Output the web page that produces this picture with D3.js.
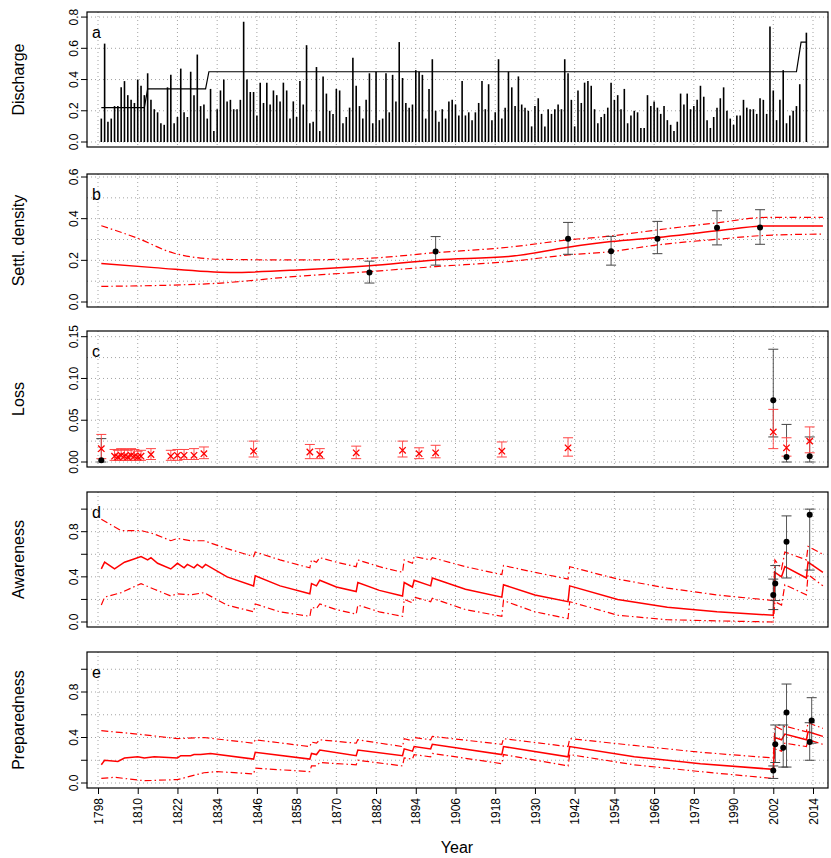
<!DOCTYPE html>
<html><head><meta charset="utf-8">
<script src="https://cdn.jsdelivr.net/npm/d3@7"></script>
<style>body{margin:0;background:#fff}svg{font-family:"Liberation Sans",Arial,sans-serif}</style>
</head><body><svg id="c" width="831" height="858"></svg>
<script>
// ---------- DATA ----------
const xTicks = d3.range(1798, 2015, 12);
const dischargeStart = 1799;
const discharge = [0.15,0.63,0.13,0.15,0.23,0.23,0.35,0.39,0.30,0.27,0.25,0.40,0.36,0.30,0.44,0.27,0.21,0.19,0.12,0.11,0.35,0.43,0.12,0.16,0.47,0.19,0.16,0.45,0.30,0.56,0.23,0.24,0.15,0.34,0.07,0.21,0.33,0.40,0.26,0.27,0.21,0.21,0.27,0.77,0.40,0.32,0.32,0.17,0.38,0.25,
0.38,0.24,0.33,0.30,0.26,0.38,0.33,0.15,0.26,0.16,0.39,0.24,0.62,0.12,0.13,0.48,0.07,0.42,0.31,0.20,0.18,0.34,0.33,0.12,0.16,0.22,0.54,0.36,0.23,0.15,0.27,0.44,0.12,0.45,0.14,0.15,0.44,0.19,0.43,0.26,0.64,0.41,0.25,0.22,0.24,0.46,0.45,0.43,0.15,0.34,0.53,0.20,0.13,0.21,0.15,0.26,
0.27,0.24,0.17,0.39,0.17,0.19,0.14,0.19,0.25,0.39,0.21,0.37,0.14,0.19,0.53,0.15,0.22,0.45,0.35,0.23,0.42,0.24,0.22,0.20,0.10,0.23,0.28,0.18,0.10,0.21,0.18,0.21,0.24,0.21,0.53,0.44,0.27,0.10,0.33,0.25,0.38,0.39,0.36,0.21,0.12,0.16,0.18,0.22,0.38,0.27,0.30,0.21,0.34,0.12,0.17,0.20,
0.19,0.09,0.09,0.30,0.23,0.26,0.22,0.18,0.23,0.14,0.11,0.07,0.13,0.31,0.24,0.31,0.21,0.23,0.27,0.36,0.29,0.14,0.09,0.16,0.22,0.28,0.35,0.20,0.15,0.11,0.17,0.17,0.27,0.22,0.21,0.21,0.18,0.28,0.27,0.18,0.74,0.33,0.14,0.27,0.46,0.12,0.17,0.20,0.23,0.37,0.00,0.70];
const dischargeStep = [[1799,0.22],[1812,0.22],[1813,0.34],[1830.5,0.34],[1831.5,0.45],[2009,0.45],[2010.4,0.64],[2012,0.64]];

const densMid = [[1799,0.185],[1815,0.165],[1838,0.142],[1860,0.155],[1880,0.174],[1900,0.202],[1922,0.218],[1940,0.263],[1953,0.29],[1967,0.31],[1985,0.342],[2000,0.365],[2017,0.365]];
const densUp = [[1799,0.366],[1810,0.306],[1821,0.234],[1835,0.205],[1858,0.202],[1880,0.21],[1900,0.237],[1922,0.263],[1940,0.298],[1953,0.317],[1967,0.346],[1985,0.38],[2000,0.406],[2017,0.406]];
const densLo = [[1799,0.075],[1832,0.088],[1858,0.123],[1880,0.146],[1900,0.17],[1922,0.194],[1940,0.226],[1953,0.242],[1967,0.274],[1985,0.301],[2000,0.32],[2017,0.326]];
const densObs = [[1880,0.142,0.091,0.196],[1900,0.242,0.177,0.314],[1940,0.304,0.229,0.382],[1953,0.244,0.177,0.315],[1967,0.304,0.232,0.387],[1985,0.357,0.274,0.438],[1998,0.358,0.277,0.443]];

const lossMod = [[1799,0.016,0.004,0.033],[1803,0.007,0.002,0.015],[1804,0.006,0.002,0.014],[1805,0.008,0.002,0.016],[1806,0.007,0.002,0.015],[1807,0.006,0.002,0.014],[1808,0.008,0.002,0.016],[1809,0.007,0.002,0.015],[1810,0.006,0.002,0.013],[1811,0.007,0.002,0.014],[1814,0.009,0.003,0.016],[1820,0.007,0.002,0.014],[1822,0.008,0.002,0.015],[1824,0.008,0.003,0.015],[1827,0.008,0.003,0.016],[1830,0.010,0.004,0.018],[1845,0.013,0.006,0.025],[1862,0.012,0.004,0.021],[1865,0.009,0.004,0.016],[1876,0.011,0.004,0.019],[1890,0.014,0.006,0.025],[1895,0.010,0.004,0.017],[1900,0.011,0.005,0.020],[1920,0.013,0.006,0.024],[1940,0.017,0.007,0.029],[2002,0.036,0.016,0.063],[2006,0.017,0.007,0.029],[2013,0.025,0.011,0.042]];
const lossObs = [[1799,0.002,0.0,0.028],[2002,0.074,0.030,0.135],[2006,0.006,0.0,0.045],[2013,0.007,0.0,0.030]];

const awMid = [[1799,0.47],[1800,0.53],[1803,0.47],[1806,0.53],[1808,0.55],[1811,0.58],[1813,0.55],[1814,0.57],[1816,0.52],[1820,0.47],[1822,0.52],[1824,0.48],[1825,0.51],[1827,0.48],[1828,0.51],[1829.5,0.48],[1830.5,0.51],[1837,0.40],[1845,0.32],[1845.5,0.41],[1853,0.32],[1862,0.25],[1862.5,0.34],[1864,0.32],[1865,0.37],[1870,0.31],[1876,0.27],[1876.5,0.35],[1883,0.28],[1890,0.23],[1890.5,0.35],[1893,0.31],[1893.5,0.37],[1898.5,0.32],[1899,0.39],[1909,0.29],[1920,0.22],[1920.5,0.33],[1930,0.24],[1940,0.18],[1940.5,0.32],[1955,0.20],[1970,0.13],[1985,0.09],[2002,0.06],[2002.5,0.44],[2004.5,0.40],[2005.5,0.49],[2012,0.39],[2012.5,0.53],[2017,0.44]];
const awUp = [[1799,0.91],[1805,0.81],[1811,0.81],[1815,0.78],[1820,0.72],[1822,0.74],[1826,0.72],[1830,0.72],[1837,0.65],[1845,0.58],[1845.5,0.62],[1853,0.55],[1862,0.48],[1862.5,0.55],[1864,0.53],[1865,0.57],[1870,0.53],[1876,0.49],[1876.5,0.55],[1883,0.49],[1890,0.44],[1890.5,0.55],[1893,0.52],[1893.5,0.58],[1898.5,0.55],[1899,0.57],[1909,0.49],[1920,0.42],[1920.5,0.50],[1930,0.44],[1940,0.38],[1940.5,0.49],[1955,0.38],[1970,0.30],[1985,0.24],[2002,0.19],[2002.5,0.55],[2004.5,0.47],[2005.5,0.62],[2012,0.55],[2012.5,0.67],[2017,0.60]];
const awLo = [[1799,0.15],[1800,0.22],[1805,0.26],[1811,0.34],[1815,0.29],[1820,0.23],[1822,0.25],[1826,0.24],[1830,0.26],[1837,0.15],[1845,0.09],[1845.5,0.16],[1853,0.09],[1862,0.05],[1862.5,0.13],[1864,0.12],[1865,0.16],[1870,0.11],[1876,0.07],[1876.5,0.15],[1883,0.09],[1890,0.05],[1890.5,0.20],[1893,0.17],[1893.5,0.22],[1898.5,0.18],[1899,0.21],[1909,0.11],[1920,0.05],[1920.5,0.19],[1930,0.09],[1940,0.03],[1940.5,0.18],[1955,0.06],[1970,0.02],[1985,0.01],[2002,0.00],[2002.5,0.18],[2004.5,0.15],[2005.5,0.33],[2012,0.24],[2012.5,0.42],[2017,0.32]];
const awObs = [[2002,0.24,0.11,0.38],[2002.6,0.34,0.19,0.50],[2006,0.71,0.39,0.94],[2013,0.95,0.46,1.0]];

const prMid = [[1799,0.16],[1800,0.20],[1804,0.19],[1806,0.22],[1810,0.23],[1812,0.22],[1815,0.23],[1822,0.22],[1823,0.24],[1826,0.24],[1827,0.25],[1829,0.25],[1832,0.26],[1845,0.21],[1845.5,0.27],[1862,0.21],[1862.5,0.26],[1864,0.25],[1865,0.29],[1876,0.24],[1876.5,0.29],[1890,0.24],[1890.5,0.30],[1893,0.28],[1893.5,0.32],[1898.5,0.30],[1899,0.34],[1920,0.25],[1920.5,0.32],[1940,0.23],[1940.5,0.32],[1960,0.23],[1980,0.17],[2002,0.12],[2002.5,0.40],[2004.5,0.38],[2005.5,0.43],[2012,0.38],[2012.5,0.45],[2017,0.41]];
const prUp = [[1799,0.46],[1810,0.43],[1822,0.39],[1830,0.40],[1845,0.35],[1845.5,0.38],[1862,0.32],[1862.5,0.36],[1864,0.35],[1865,0.38],[1876,0.35],[1876.5,0.38],[1890,0.32],[1890.5,0.39],[1893,0.37],[1893.5,0.40],[1898.5,0.38],[1899,0.41],[1920,0.34],[1920.5,0.39],[1940,0.32],[1940.5,0.39],[1960,0.33],[1980,0.27],[2002,0.22],[2002.5,0.50],[2004.5,0.47],[2005.5,0.50],[2012,0.45],[2012.5,0.53],[2017,0.48]];
const prLo = [[1799,0.04],[1803,0.05],[1812,0.02],[1822,0.03],[1830,0.09],[1834,0.10],[1845,0.08],[1845.5,0.13],[1862,0.10],[1862.5,0.15],[1864,0.15],[1865,0.18],[1876,0.16],[1876.5,0.20],[1890,0.15],[1890.5,0.22],[1893,0.21],[1893.5,0.25],[1898.5,0.23],[1899,0.26],[1920,0.17],[1920.5,0.25],[1940,0.15],[1940.5,0.25],[1960,0.16],[1980,0.10],[2002,0.04],[2002.5,0.30],[2004.5,0.28],[2005.5,0.35],[2012,0.32],[2012.5,0.38],[2017,0.34]];
const prObs = [[2002,0.11,0.04,0.15],[2002.6,0.34,0.18,0.51],[2005,0.31,0.14,0.51],[2006,0.62,0.14,0.87],[2013,0.36,0.20,0.53],[2013.6,0.55,0.35,0.75]];

// ---------- LAYOUT ----------
const svg = d3.select("#c");
const L = 87, R = 828;
const x = d3.scaleLinear().domain([1798, 2014]).range([98, 813]);
const dash = "7,3,1.5,3";
const red = "#ff0000";

function panel(o) {
  const y = d3.scaleLinear().domain([0, o.refV]).range([o.y0, o.refY]);
  const g = svg.append("g");
  // grid
  const gg = g.append("g").attr("stroke", "#999").attr("stroke-dasharray", "1,3").attr("stroke-width", 0.9);
  xTicks.forEach(t => gg.append("line").attr("x1", x(t)).attr("x2", x(t)).attr("y1", o.top).attr("y2", o.bot));
  o.grid.forEach(v => gg.append("line").attr("x1", L).attr("x2", R).attr("y1", y(v)).attr("y2", y(v)));
  // frame
  g.append("rect").attr("x", L).attr("y", o.top).attr("width", R - L).attr("height", o.bot - o.top)
    .attr("fill", "none").attr("stroke", "#000").attr("stroke-width", 1.2);
  // y axis ticks
  o.ticks.forEach(v => {
    g.append("line").attr("x1", L - 6).attr("x2", L).attr("y1", y(v)).attr("y2", y(v)).attr("stroke", "#000");
  });
  o.labels.forEach(v => {
    g.append("text").attr("transform", `translate(${L - 9},${y(v)}) rotate(-90)`)
      .attr("text-anchor", "middle").attr("font-size", 12).text(d3.format(o.fmt)(v));
  });
  g.append("text").attr("transform", `translate(24,${(o.top + o.bot) / 2}) rotate(-90)`)
    .attr("text-anchor", "middle").attr("font-size", 16).text(o.title);
  g.append("text").attr("x", 92).attr("y", o.top + 26).attr("font-size", 16).text(o.letter);
  return {g, y};
}

const lineGen = (y, curve) => d3.line().x(d => x(d[0])).y(d => y(d[1])).curve(curve || d3.curveLinear);

function drawLines(p, mid, up, lo, curve) {
  const lg = lineGen(p.y, curve);
  [up, lo].forEach(s => p.g.append("path").attr("d", lg(s)).attr("fill", "none").attr("stroke", red)
    .attr("stroke-width", 1.2).attr("stroke-dasharray", dash));
  p.g.append("path").attr("d", lg(mid)).attr("fill", "none").attr("stroke", red).attr("stroke-width", 1.5);
}
function errbars(p, data, col, cap) {
  data.forEach(d => {
    const cx = x(d[0]);
    p.g.append("line").attr("x1", cx).attr("x2", cx).attr("y1", p.y(d[2])).attr("y2", p.y(d[3])).attr("stroke", col).attr("stroke-width", 0.9);
    [d[2], d[3]].forEach(v => p.g.append("line").attr("x1", cx - cap).attr("x2", cx + cap).attr("y1", p.y(v)).attr("y2", p.y(v)).attr("stroke", col).attr("stroke-width", 1));
  });
}
function dots(p, data) {
  data.forEach(d => p.g.append("circle").attr("cx", x(d[0])).attr("cy", p.y(d[1])).attr("r", 3).attr("fill", "#000"));
}

// a
const pa = panel({top: 12, bot: 147, y0: 142, refV: 0.6, refY: 48.3, grid: [0, 0.2, 0.4, 0.6, 0.8], ticks: [0, 0.2, 0.4, 0.6, 0.8], labels: [0, 0.2, 0.4, 0.6, 0.8], fmt: ".1f", title: "Discharge", letter: "a"});
discharge.forEach((v, i) => {
  const yr = dischargeStart + i;
  pa.g.append("line").attr("x1", x(yr)).attr("x2", x(yr)).attr("y1", pa.y(0)).attr("y2", pa.y(v)).attr("stroke", "#000").attr("stroke-width", 1.6);
});
pa.g.append("path").attr("d", lineGen(pa.y)(dischargeStep)).attr("fill", "none").attr("stroke", "#000").attr("stroke-width", 1.2);

// b
const pb = panel({top: 174, bot: 307, y0: 302, refV: 0.6, refY: 177, grid: [0, 0.1, 0.2, 0.3, 0.4, 0.5, 0.6], ticks: [0, 0.2, 0.4, 0.6], labels: [0, 0.2, 0.4, 0.6], fmt: ".1f", title: "Settl. density", letter: "b"});
drawLines(pb, densMid, densUp, densLo, d3.curveMonotoneX);
errbars(pb, densObs, "#444", 5);
dots(pb, densObs);

// c
const pc = panel({top: 331, bot: 467, y0: 462, refV: 0.15, refY: 336.7, grid: [0, 0.025, 0.05, 0.075, 0.1, 0.125, 0.15], ticks: [0, 0.05, 0.1, 0.15], labels: [0, 0.05, 0.1, 0.15], fmt: ".2f", title: "Loss", letter: "c"});
errbars(pc, lossObs, "#444", 5);
errbars(pc, lossMod, "#f44", 5);
dots(pc, lossObs);
lossMod.forEach(d => {
  const cx = x(d[0]), cy = pc.y(d[1]), s = 3.2;
  pc.g.append("path").attr("d", `M${cx - s},${cy - s}L${cx + s},${cy + s}M${cx - s},${cy + s}L${cx + s},${cy - s}`).attr("stroke", red).attr("stroke-width", 1.3);
});

// d
const pd = panel({top: 492, bot: 627, y0: 622, refV: 0.8, refY: 531.7, grid: [0, 0.2, 0.4, 0.6, 0.8, 1.0], ticks: [0, 0.2, 0.4, 0.6, 0.8, 1.0], labels: [0, 0.4, 0.8], fmt: ".1f", title: "Awareness", letter: "d"});
drawLines(pd, awMid, awUp, awLo);
errbars(pd, awObs, "#444", 5);
dots(pd, awObs);

// e
const pe = panel({top: 652, bot: 788, y0: 783, refV: 0.8, refY: 692, grid: [0, 0.2, 0.4, 0.6, 0.8, 1.0], ticks: [0, 0.2, 0.4, 0.6, 0.8, 1.0], labels: [0, 0.4, 0.8], fmt: ".1f", title: "Preparedness", letter: "e"});
drawLines(pe, prMid, prUp, prLo);
errbars(pe, prObs, "#444", 5);
dots(pe, prObs);

// x axis
const xa = svg.append("g").attr("transform", "translate(0,788)")
  .call(d3.axisBottom(x).tickValues(xTicks).tickFormat(d3.format("d")).tickSize(6).tickSizeOuter(0));
xa.select(".domain").remove();
xa.selectAll("text").attr("font-size", 12).attr("font-family", "Liberation Sans, Arial, sans-serif")
  .attr("transform", "rotate(-90)").attr("text-anchor", "end").attr("x", -10).attr("y", 0).attr("dy", "0.35em");
svg.append("text").attr("x", 457).attr("y", 853).attr("text-anchor", "middle").attr("font-size", 16).text("Year");
</script></body></html>
